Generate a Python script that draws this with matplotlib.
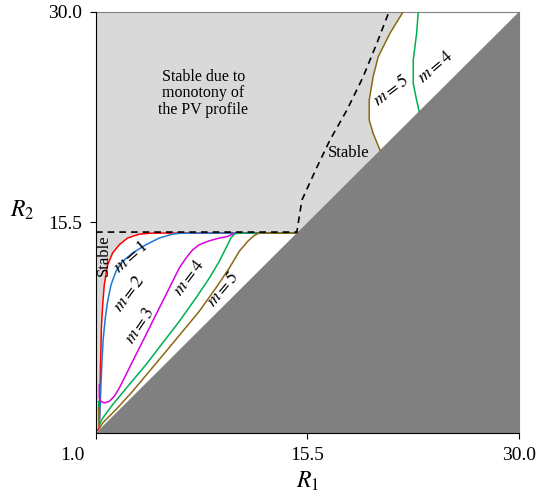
import matplotlib.pyplot as plt
from matplotlib.transforms import ScaledTranslation

plt.rcParams['font.family'] = ['Liberation Serif', 'DejaVu Serif']
plt.rcParams['mathtext.fontset'] = 'stix'

# curves (R1, R2)
m1_r1 = [1.10, 1.23, 1.27, 1.32, 1.37, 1.46, 1.57, 1.80, 2.14, 2.60, 3.17, 3.97, 4.88, 14.77]
m1_r2 = [1.20, 1.34, 3.64, 5.94, 8.23, 9.84, 11.21, 12.59, 13.40, 13.97, 14.43, 14.70, 14.77, 14.77]

m2_r1 = [1.25, 1.30, 1.34, 1.41, 1.50, 1.64, 1.80, 2.03, 2.37, 2.83, 3.51, 4.43, 5.34,
         6.25, 6.94, 14.77]
m2_r2 = [2.00, 3.20, 4.33, 5.94, 7.54, 8.92, 10.07, 11.21, 12.13, 12.82, 13.40, 13.97, 14.43,
         14.70, 14.77, 14.77]

m3_r1 = [1.23, 1.23, 1.34, 1.57, 1.91, 2.26, 2.60, 3.06, 3.51, 3.97, 4.43, 4.88, 5.34,
         5.80, 6.25, 6.71, 7.17, 7.63, 8.08, 8.77, 9.45, 10.02, 10.37, 10.60, 14.77]
m3_r2 = [4.33, 3.41, 3.18, 3.07, 3.18, 3.53, 4.10, 5.02, 5.94, 6.85, 7.77, 8.69, 9.61,
         10.53, 11.44, 12.36, 13.05, 13.62, 13.97, 14.24, 14.43, 14.54, 14.70, 14.77, 14.77]

m4_r1 = [1.18, 1.23, 1.46, 2.14, 3.28, 4.43, 5.57, 6.71, 7.85, 8.77, 9.45, 9.91, 10.25,
         10.48, 10.71, 14.77]
m4_r2 = [3.18, 1.57, 2.03, 2.95, 4.33, 5.71, 7.20, 8.69, 10.30, 11.67, 12.82, 13.74, 14.43,
         14.70, 14.77, 14.77]

m5_r1 = [1.18, 1.23, 1.46, 2.37, 3.51, 4.66, 5.80, 6.94, 8.08, 9.22, 10.14, 10.82, 11.40,
         11.85, 12.19, 14.77]
m5_r2 = [2.72, 1.34, 1.69, 2.61, 3.87, 5.25, 6.62, 8.00, 9.38, 10.99, 12.36, 13.51, 14.20,
         14.61, 14.77, 14.77]

m4_up_r1 = [23.16, 22.98, 22.75, 22.75, 22.98, 23.09, 23.12]
m4_up_r2 = [23.13, 23.93, 25.08, 26.69, 28.52, 29.95, 30.0]

m5_up_r1 = [20.47, 20.00, 19.73, 19.73, 20.00, 20.35, 21.15, 22.02, 22.05]
m5_up_r2 = [20.49, 21.64, 22.56, 23.93, 25.54, 26.92, 28.53, 29.95, 30.0]

# dashed boundary
dash_r1 = [1.0, 14.77, 14.95, 15.12, 16.15, 17.04, 18.2, 19.3, 20.26, 21.0, 21.01]
dash_r2 = [14.84, 14.84, 16.0, 17.05, 19.32, 21.18, 23.24, 25.5, 27.86, 29.79, 30.0]

colors = ['#ff0000', '#1f78d0', '#dd00dd', '#00b050', '#8b6914']

fig = plt.figure(figsize=(5.38, 5.04), dpi=100)
ax = fig.add_axes([0.1784, 0.1409, 0.7863, 0.8353])
ax.set_xlim(1, 30)
ax.set_ylim(1, 30)
ax.set_facecolor('#d9d9d9')

# unstable (white) regions
ax.fill(m1_r1 + [1.0], m1_r2 + [1.0], color='white', lw=0, zorder=1)
ax.fill(m5_up_r1 + [30.0], m5_up_r2 + [30.0], color='white', lw=0, zorder=1)
# R2 < R1 not allowed
ax.fill([1, 30, 30], [1, 1, 30], color='#808080', lw=0, zorder=2)

lower = [(m1_r1, m1_r2), (m2_r1, m2_r2), (m3_r1, m3_r2), (m4_r1, m4_r2), (m5_r1, m5_r2)]
for (xs, ys), c in zip(lower, colors):
    ax.plot(xs, ys, color=c, lw=1.1, zorder=3, solid_joinstyle='round')
ax.plot(m4_up_r1, m4_up_r2, color=colors[3], lw=1.1, zorder=3)
ax.plot(m5_up_r1, m5_up_r2, color=colors[4], lw=1.1, zorder=3)

ax.plot(dash_r1, dash_r2, color='black', ls=(0, (4, 3)), lw=1.2, zorder=4)

lab = dict(fontsize=13, ha='center', va='center', zorder=5)
ax.text(3.40, 13.10, r'$m=1$', rotation=41, **lab)
ax.text(3.26, 10.62, r'$m=2$', rotation=53, **lab)
ax.text(4.02, 8.37, r'$m=3$', rotation=56, **lab)
ax.text(7.40, 11.72, r'$m=4$', rotation=53, **lab)
ax.text(9.73, 10.90, r'$m=5$', rotation=50, **lab)
ax.text(21.27, 24.57, r'$m=5$', rotation=37, **lab)
ax.text(24.28, 26.23, r'$m=4$', rotation=40, **lab)

ax.text(1.53, 13.26, 'Stable', rotation=90, fontsize=12, ha='center', va='center', zorder=5)
ax.text(18.29, 20.26, 'Stable', fontsize=12, ha='center', va='center', zorder=5)
ax.text(8.35, 24.4, 'Stable due to\nmonotony of\nthe PV profile', fontsize=11.5,
        ha='center', va='center', linespacing=1.05, zorder=5)

ax.set_xticks([1, 15.5, 30])
ax.set_xticklabels(['1.0', '15.5', '30.0'])
ax.set_yticks([15.5, 30])
ax.set_yticklabels(['15.5', '30.0'])
ax.tick_params(labelsize=14, length=4, direction='out', pad=6)
# the shared corner label sits left of the origin
lbl = ax.get_xticklabels()[0]
lbl.set_transform(lbl.get_transform() + ScaledTranslation(-24 / 100, 0, fig.dpi_scale_trans))

ax.set_xlabel(r'$R_1$', fontsize=17, labelpad=4)
ax.set_ylabel(r'$R_2$', fontsize=17, rotation=0, labelpad=0)
ax.yaxis.set_label_coords(-0.175, (15.5 - 1) / 29)

for s in ['top', 'right']:
    ax.spines[s].set_color('#808080')
ax.spines['left'].set_zorder(6)
ax.spines['bottom'].set_zorder(6)

fig.savefig('out.png', dpi=100)
